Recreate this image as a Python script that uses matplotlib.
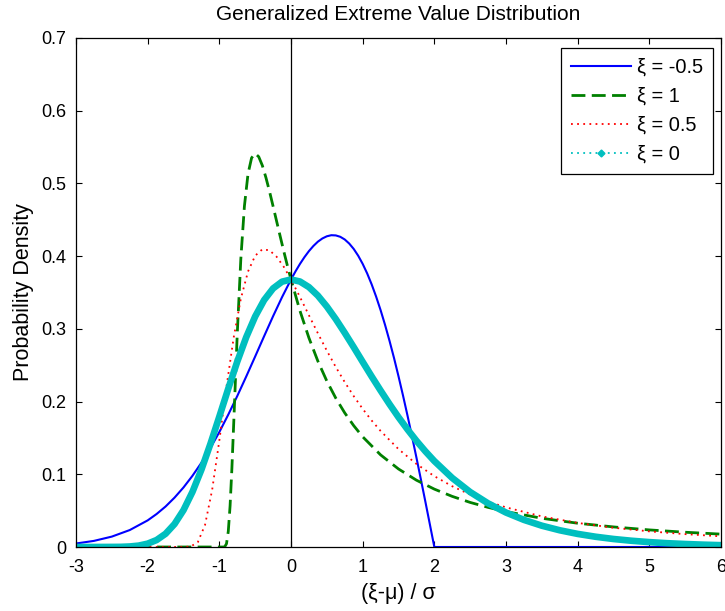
import matplotlib
matplotlib.use("Agg")
import matplotlib.pyplot as plt
from matplotlib.lines import Line2D

plt.rcParams['font.family'] = ['Liberation Sans', 'DejaVu Sans']

# ---- data ----
x_neg05 = [-3, -2.75, -2.5, -2.25, -2, -1.875, -1.75, -1.625, -1.5, -1.375, -1.25,
           -1.125, -1, -0.875, -0.75, -0.625, -0.5, -0.375, -0.25, -0.125, 0,
           0.0625, 0.125, 0.1875, 0.25, 0.3125, 0.375, 0.4375, 0.5, 0.5625, 0.625,
           0.6875, 0.75, 0.8125, 0.875, 0.9375, 1, 1.0625, 1.125, 1.1875, 1.25,
           1.3125, 1.375, 1.4375, 1.5, 1.5625, 1.625, 1.6875, 1.75, 1.8125, 1.875,
           1.9375, 2, 6]
y_neg05 = [0.0048, 0.0084, 0.0143, 0.0233, 0.0366, 0.0454, 0.0557, 0.0679, 0.0819,
           0.0979, 0.1159, 0.1360, 0.1581, 0.1821, 0.2076, 0.2344, 0.2620, 0.2899,
           0.3174, 0.3436, 0.3679, 0.3790, 0.3893, 0.3986, 0.4069, 0.4140, 0.4199,
           0.4243, 0.4273, 0.4288, 0.4285, 0.4266, 0.4229, 0.4173, 0.4099, 0.4006,
           0.3894, 0.3763, 0.3613, 0.3444, 0.3258, 0.3054, 0.2834, 0.2599, 0.2348,
           0.2085, 0.1810, 0.1525, 0.1231, 0.0929, 0.0623, 0.0312, 0.0, 0.0]

x_one = [-3, -1, -0.95, -0.925, -0.9, -0.875, -0.85, -0.825, -0.8, -0.75, -0.7,
         -0.65, -0.6, -0.55, -0.5, -0.45, -0.4, -0.35, -0.3, -0.25, -0.2, -0.15,
         -0.1, -0.05, 0, 0.125, 0.25, 0.375, 0.5, 0.625, 0.75, 0.875, 1, 1.25, 1.5,
         1.75, 2, 2.25, 2.5, 2.75, 3, 3.5, 4, 4.5, 5, 5.5, 6]
y_one = [0.0, 0.0, 0.0, 0.0003, 0.0045, 0.0215, 0.0566, 0.1076, 0.1684, 0.2930,
         0.3963, 0.4688, 0.5130, 0.5351, 0.5413, 0.5366, 0.5247, 0.5081, 0.4891,
         0.4686, 0.4477, 0.4269, 0.4064, 0.3867, 0.3679, 0.3248, 0.2876, 0.2556,
         0.2282, 0.2047, 0.1844, 0.1669, 0.1516, 0.1267, 0.1073, 0.0919, 0.0796,
         0.0696, 0.0613, 0.0545, 0.0487, 0.0395, 0.0327, 0.0276, 0.0235, 0.0203,
         0.0177]

x_half = [-3, -2, -1.5, -1.4, -1.3, -1.2, -1.1, -1, -0.9, -0.8, -0.7, -0.6, -0.5,
          -0.4, -0.3, -0.2, -0.1, 0, 0.125, 0.25, 0.375, 0.5, 0.625, 0.75, 0.875,
          1, 1.125, 1.25, 1.5, 1.75, 2, 2.25, 2.5, 2.75, 3, 3.5, 4, 4.5, 5, 5.5, 6]
y_half = [0.0, 0.0, 0.0, 0.0006, 0.0067, 0.0302, 0.0787, 0.1465, 0.2205, 0.2879,
          0.3414, 0.3788, 0.4006, 0.4094, 0.4080, 0.3991, 0.3852, 0.3679, 0.3438,
          0.3187, 0.2939, 0.2700, 0.2475, 0.2267, 0.2075, 0.1900, 0.1740, 0.1596,
          0.1346, 0.1142, 0.0974, 0.0835, 0.0721, 0.0625, 0.0545, 0.0421, 0.0331,
          0.0265, 0.0215, 0.0177, 0.0147]

x_zero = [-3, -2.75, -2.5, -2.375, -2.25, -2.125, -2, -1.875, -1.75, -1.625, -1.5,
          -1.375, -1.25, -1.125, -1, -0.875, -0.75, -0.625, -0.5, -0.375, -0.25,
          -0.125, 0, 0.125, 0.25, 0.375, 0.5, 0.625, 0.75, 0.875, 1, 1.125, 1.25,
          1.375, 1.5, 1.625, 1.75, 1.875, 2, 2.25, 2.5, 2.75, 3, 3.25, 3.5, 3.75,
          4, 4.25, 4.5, 4.75, 5, 5.25, 5.5, 5.75, 6]
y_zero = [0.0, 0.0, 0.0001, 0.0002, 0.0007, 0.0019, 0.0046, 0.0096, 0.0182, 0.0316,
          0.0507, 0.0758, 0.1064, 0.1416, 0.1793, 0.2179, 0.2549, 0.2885, 0.3170,
          0.3396, 0.3556, 0.3649, 0.3679, 0.3651, 0.3574, 0.3457, 0.3307, 0.3134,
          0.2945, 0.2748, 0.2546, 0.2346, 0.2152, 0.1964, 0.1785, 0.1618, 0.1461,
          0.1316, 0.1182, 0.0949, 0.0756, 0.0600, 0.0474, 0.0373, 0.0293, 0.0230,
          0.0180, 0.0141, 0.0110, 0.0086, 0.0067, 0.0052, 0.0041, 0.0032, 0.0025]

legend_labels = ['ξ = -0.5', 'ξ = 1', 'ξ = 0.5', 'ξ = 0']
x_ticks = [-3, -2, -1, 0, 1, 2, 3, 4, 5, 6]
y_ticks = [0, 0.1, 0.2, 0.3, 0.4, 0.5, 0.6, 0.7]
y_ticklabels = ['0', '0.1', '0.2', '0.3', '0.4', '0.5', '0.6', '0.7']

c_blue = (0, 0, 1)
c_green = (0, 0.5, 0)
c_red = (1, 0, 0)
c_cyan = (0, 0.75, 0.75)

fig = plt.figure(figsize=(7.25, 6.11), dpi=100)
ax = fig.add_axes([76/725, 64/611, 645/725, 509/611])

ax.plot(x_neg05, y_neg05, color=c_blue, lw=1.5, solid_joinstyle='round')
ax.plot(x_one, y_one, color=c_green, lw=2.0, linestyle=(0, (5.0, 2.3)))
ax.plot(x_half, y_half, color=c_red, lw=1.3, linestyle=(0, (1.0, 2.4)))
ax.plot(x_zero, y_zero, color=c_cyan, lw=4.8, solid_joinstyle='round',
        solid_capstyle='butt')
ax.axvline(0, color='black', lw=0.9, zorder=5)

ax.set_xlim(-3, 6)
ax.set_ylim(0, 0.7)
ax.set_xticks(x_ticks)
ax.set_xticklabels([str(v) for v in x_ticks])
ax.set_yticks(y_ticks)
ax.set_yticklabels(y_ticklabels)
ax.tick_params(direction='in', length=4, width=0.8, top=True, right=True,
               labelsize=13, colors='black')
ax.tick_params(axis='x', pad=9)
ax.tick_params(axis='y', pad=7)
for s in ax.spines.values():
    s.set_linewidth(0.9)

fig.text(398/725, 1 - 15/611, 'Generalized Extreme Value Distribution',
         fontsize=15, ha='center', va='center')
ax.set_xlabel('(ξ-μ) / σ', fontsize=15.5, labelpad=5)
ax.set_ylabel('Probability Density', fontsize=15.5, labelpad=5)

handles = [
    Line2D([], [], color=c_blue, lw=1.5),
    Line2D([], [], color=c_green, lw=2.0, linestyle=(0, (5.0, 2.3))),
    Line2D([], [], color=c_red, lw=1.3, linestyle=(0, (1.0, 2.4))),
    Line2D([], [], color=c_cyan, lw=1.3, linestyle=(0, (1.0, 2.4)),
           marker='D', markersize=3.5),
]
leg = ax.legend(handles, legend_labels, loc='upper right',
                bbox_to_anchor=(713/725, (611-48)/611), bbox_transform=fig.transFigure,
                fontsize=14.4, frameon=True, fancybox=False, edgecolor='black',
                framealpha=1, handlelength=3.0, handletextpad=0.3,
                borderpad=0.5, labelspacing=0.5, numpoints=1, borderaxespad=0)
leg.get_frame().set_linewidth(0.9)

fig.savefig('out.png', dpi=100)
